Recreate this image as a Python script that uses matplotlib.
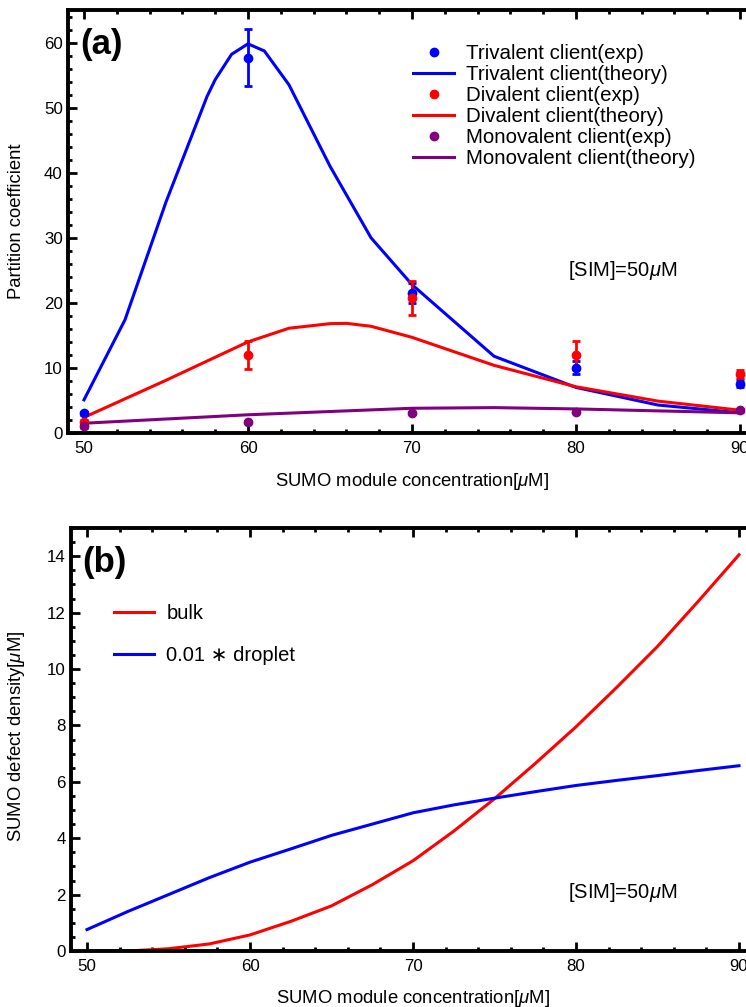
import matplotlib
matplotlib.use("Agg")
import matplotlib.pyplot as plt
from matplotlib.ticker import MultipleLocator

plt.rcParams['font.family'] = ['Liberation Sans', 'DejaVu Sans']
plt.rcParams['mathtext.fontset'] = 'custom'
plt.rcParams['mathtext.it'] = 'Liberation Sans:italic'
plt.rcParams['mathtext.rm'] = 'Liberation Sans'

# ---- podaci, panel (a) ----
x_tri = [50, 52.5, 55, 57.5, 58, 59, 60, 61, 62.5, 65, 67.5, 70, 75, 80, 85, 90]
tri_theory = [5.1, 17.4, 35.5, 51.7, 54.3, 58.2, 59.8, 58.7, 53.5, 41.0, 30.0, 22.8, 11.8, 7.0, 4.3, 3.1]
x_di = [50, 55, 60, 62.5, 65, 66, 67.5, 70, 75, 80, 85, 90]
di_theory = [2.4, 8.1, 14.0, 16.1, 16.8, 16.85, 16.4, 14.7, 10.4, 7.1, 4.9, 3.5]
x_mono = [50, 60, 70, 75, 80, 90]
mono_theory = [1.5, 2.8, 3.8, 3.9, 3.7, 3.1]

x_exp = [50, 60, 70, 80, 90]
tri_exp = [3.0, 57.7, 21.5, 10.0, 7.6]
tri_err = [0.3, 4.4, 1.6, 1.0, 0.6]
di_exp = [1.7, 12.0, 20.8, 12.0, 9.1]
di_err = [0.3, 2.1, 2.6, 2.2, 0.6]
mono_exp = [1.0, 1.7, 3.1, 3.3, 3.5]
mono_err = [0.2, 0.2, 0.2, 0.2, 0.2]

# ---- podaci, panel (b) ----
x_b = [50, 52.5, 55, 57.5, 60, 62.5, 65, 67.5, 70, 72.5, 75, 77.5, 80, 82.5, 85, 87.5, 90]
bulk = [0.0, 0.0, 0.08, 0.25, 0.57, 1.05, 1.6, 2.35, 3.2, 4.25, 5.4, 6.65, 7.95, 9.35, 10.8, 12.4, 14.05]
droplet = [0.76, 1.4, 2.0, 2.6, 3.15, 3.62, 4.1, 4.5, 4.9, 5.18, 5.42, 5.65, 5.87, 6.05, 6.22, 6.4, 6.57]

BLUE = (0, 0, 1)
RED = (1, 0, 0)
PURPLE = (0.5, 0, 0.5)

fig = plt.figure(figsize=(7.46, 10.07), dpi=100)
W, H = 746.0, 1007.0
# osi malo izlaze desno van slike, kao na originalu
ax1 = fig.add_axes([67.6 / W, 1 - 433 / H, 688.8 / W, 423 / H])
ax2 = fig.add_axes([70.7 / W, 1 - 951 / H, 684.6 / W, 423 / H])


def style_axes(ax, ymaj, ymin):
    ax.xaxis.set_major_locator(MultipleLocator(10))
    ax.xaxis.set_minor_locator(MultipleLocator(2))
    ax.yaxis.set_major_locator(MultipleLocator(ymaj))
    ax.yaxis.set_minor_locator(MultipleLocator(ymin))
    ax.tick_params(which='both', direction='in', top=True, right=True, labelsize=12.2)
    ax.tick_params(which='major', length=6.5, width=2.0)
    ax.tick_params(which='minor', length=3.2, width=2.0)
    ax.tick_params(axis='x', pad=5.5)
    ax.tick_params(axis='y', pad=3.5)
    for s in ax.spines.values():
        s.set_linewidth(2.8)


def exp_series(ax, y, err, c, name):
    # error barovi bez labela, tocke posebno da legenda ima samo tocku
    ax.errorbar(x_exp, y, yerr=err, fmt='none', ecolor=c, elinewidth=2,
                capsize=3.2, capthick=2, zorder=3)
    ax.plot(x_exp, y, 'o', color=c, ms=6, label=name, zorder=4)


# ---- panel (a) ----
exp_series(ax1, tri_exp, tri_err, BLUE, 'Trivalent client(exp)')
ax1.plot(x_tri, tri_theory, color=BLUE, lw=2.2, label='Trivalent client(theory)')
exp_series(ax1, di_exp, di_err, RED, 'Divalent client(exp)')
ax1.plot(x_di, di_theory, color=RED, lw=2.2, label='Divalent client(theory)')
exp_series(ax1, mono_exp, mono_err, PURPLE, 'Monovalent client(exp)')
ax1.plot(x_mono, mono_theory, color=PURPLE, lw=2.2, label='Monovalent client(theory)')

ax1.set_xlim(49, 91)
ax1.set_ylim(0, 65)
style_axes(ax1, 10, 2)
ax1.set_xlabel('SUMO module concentration[$\\mu$M]', fontsize=13.3)
ax1.set_ylabel('Partition coefficient', fontsize=13.3)
ax1.xaxis.set_label_coords(0.5, -0.090)
ax1.yaxis.set_label_coords(-0.062, 0.5)
ax1.text(49.75, 59.7, '(a)', fontsize=25, fontweight='bold', ha='left', va='center')
ax1.text(79.5, 24.9, '[SIM]=50$\\mu$M', fontsize=14.5, ha='left', va='center')

ax1.legend(loc='upper left', bbox_to_anchor=(413 / W, 1 - 44 / H),
           bbox_transform=fig.transFigure, frameon=False, fontsize=14.8,
           handlelength=2.0, handletextpad=0.6, labelspacing=0.1, borderpad=0,
           borderaxespad=0)

# ---- panel (b) ----
ax2.plot(x_b, bulk, color=RED, lw=2.2, label='bulk')
ax2.plot(x_b, droplet, color=BLUE, lw=2.2, label='0.01 \u2217 droplet')
ax2.set_xlim(49, 91)
ax2.set_ylim(0, 15)
style_axes(ax2, 2, 0.5)
ax2.set_xlabel('SUMO module concentration[$\\mu$M]', fontsize=13.3)
ax2.set_ylabel('SUMO defect density[$\\mu$M]', fontsize=13.3)
ax2.xaxis.set_label_coords(0.5, -0.088)
ax2.yaxis.set_label_coords(-0.064, 0.508)
ax2.text(49.7, 13.76, '(b)', fontsize=25, fontweight='bold', ha='left', va='center')
ax2.text(79.5, 2.06, '[SIM]=50$\\mu$M', fontsize=14.5, ha='left', va='center')
ax2.legend(loc='upper left', bbox_to_anchor=(114 / W, 1 - 604 / H),
           bbox_transform=fig.transFigure, frameon=False, fontsize=14.5,
           handlelength=2.0, handletextpad=0.6, labelspacing=1.15, borderpad=0,
           borderaxespad=0)

fig.savefig('out.png', dpi=100)
